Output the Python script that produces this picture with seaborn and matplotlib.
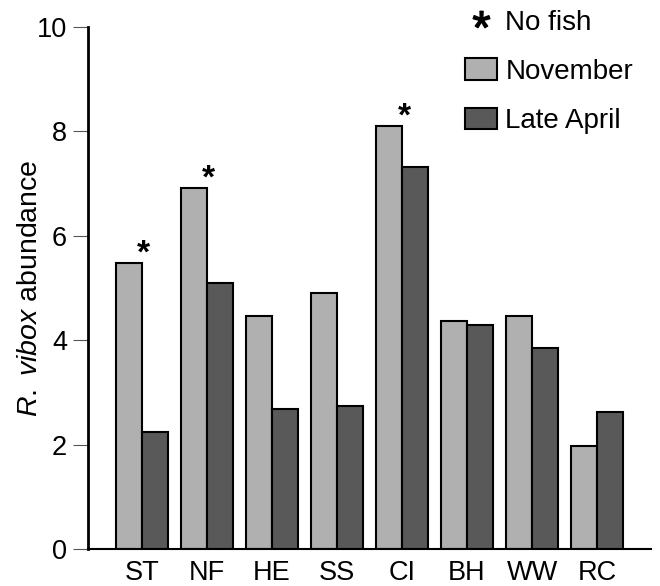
import matplotlib
matplotlib.use("Agg")
import matplotlib.pyplot as plt
import seaborn as sns
import pandas as pd
from matplotlib.patches import Patch
from matplotlib.lines import Line2D

# Sites and R. vibox abundance per sampling period
sites = ["ST", "NF", "HE", "SS", "CI", "BH", "WW", "RC"]
november = [5.47, 6.92, 4.47, 4.90, 8.10, 4.37, 4.46, 1.98]
late_april = [2.25, 5.10, 2.68, 2.74, 7.32, 4.30, 3.86, 2.63]
no_fish_sites = ["ST", "NF", "CI"]
seasons = ["November", "Late April"]
colors = ["#b0b0b0", "#595959"]
y_ticks = [0, 2, 4, 6, 8, 10]

sns.set_theme(style="white")
plt.rcParams["font.family"] = ["Liberation Sans", "DejaVu Sans"]
plt.rcParams["mathtext.fontset"] = "custom"
plt.rcParams["mathtext.rm"] = "Liberation Sans"
plt.rcParams["mathtext.it"] = "Liberation Sans:italic"
plt.rcParams["text.color"] = "black"
plt.rcParams["axes.labelcolor"] = "black"

df = pd.DataFrame({
    "site": sites * 2,
    "season": [seasons[0]] * len(sites) + [seasons[1]] * len(sites),
    "abundance": november + late_april,
})

W, H = 660, 586
fig = plt.figure(figsize=(W / 100, H / 100), dpi=100)
ax = fig.add_axes([88 / W, 1 - 549 / H, (651 - 88) / W, (549 - 27) / H])

sns.barplot(data=df, x="site", y="abundance", hue="season", hue_order=seasons,
            palette=colors, width=0.8, gap=0, errorbar=None,
            edgecolor="black", linewidth=1.5, saturation=1, legend=False, ax=ax)

ax.set_ylim(0, 10)
ax.set_xlim(-0.83, 7.83)
ax.set_yticks(y_ticks)
ax.set_xlabel("")
ax.set_ylabel(r"$\it{R.\ vibox}$ abundance", fontsize=20.5, color="black")
ax.yaxis.set_label_coords(-0.08, 0.5)

for s in ["top", "right"]:
    ax.spines[s].set_visible(False)
ax.spines["left"].set_linewidth(2)
ax.spines["bottom"].set_linewidth(1.5)
for s in ["left", "bottom"]:
    ax.spines[s].set_color("black")

ax.tick_params(axis="y", direction="out", length=11, width=0.8, color="#555555",
               labelcolor="black", labelsize=19.5, pad=4, left=True)
ax.tick_params(axis="x", length=0, labelcolor="black", labelsize=19.5, pad=8)

# Asterisks mark sites without fish
for site in no_fish_sites:
    i = sites.index(site)
    ax.annotate("*", xy=(i + 0.03, november[i]), xytext=(0, 6.5),
                textcoords="offset points", ha="center", va="center",
                fontsize=24, fontweight="bold", color="black")

handles = [
    Line2D([], [], marker=r"$*$", linestyle="none", color="black", markersize=12),
    Patch(facecolor=colors[0], edgecolor="black", linewidth=1.5),
    Patch(facecolor=colors[1], edgecolor="black", linewidth=1.5),
]
leg = fig.legend(handles, ["No fish"] + seasons, loc="upper left",
                 bbox_to_anchor=(465 / W, 1 - 9 / H), frameon=False, fontsize=20,
                 handlelength=1.15, handleheight=0.83, handletextpad=0.3,
                 labelspacing=0.82, borderpad=0, borderaxespad=0)
for t in leg.get_texts():
    t.set_color("black")

fig.savefig("out.png", dpi=100)
